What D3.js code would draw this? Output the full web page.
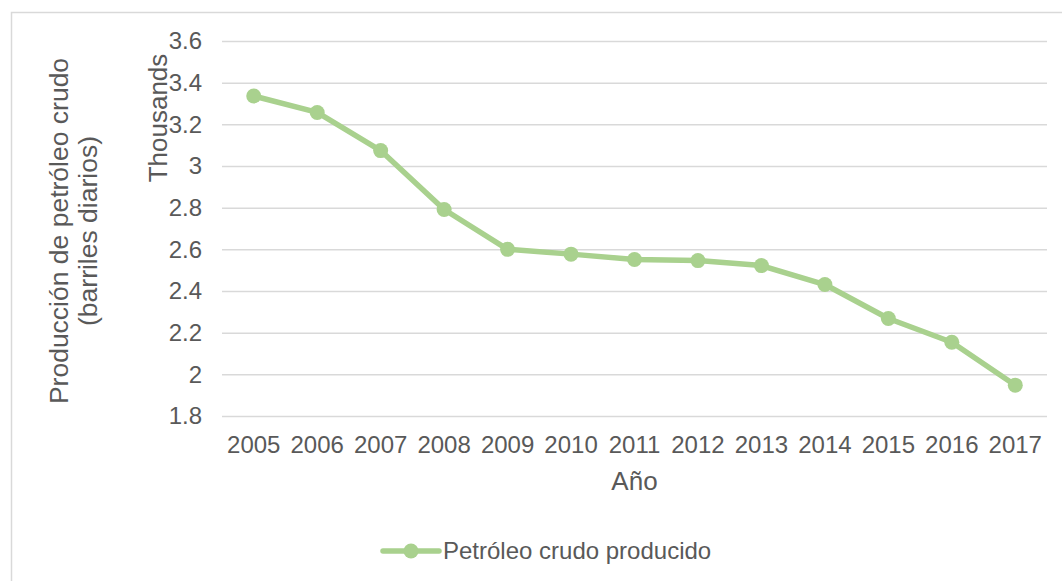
<!DOCTYPE html>
<html>
<head>
<meta charset="utf-8">
<script src="https://cdn.jsdelivr.net/npm/d3@7"></script>
<style>
  body { margin: 0; background: #fff; }
  text { font-family: "Liberation Sans", Arial, sans-serif; fill: #595959; }
</style>
</head>
<body>
<script>
// data (thousands of barrels per day)
const years = ["2005", "2006", "2007", "2008", "2009", "2010", "2011", "2012", "2013", "2014", "2015", "2016", "2017"];
const production = [3.336, 3.257, 3.074, 2.791, 2.600, 2.577, 2.551, 2.546, 2.522, 2.431, 2.268, 2.154, 1.948];
const yTicks = [1.8, 2, 2.2, 2.4, 2.6, 2.8, 3, 3.2, 3.4, 3.6];

const W = 1062, H = 581;
const margin = { top: 41, right: 15, bottom: 165, left: 222 },
      width = 1047 - margin.left,
      height = 416 - margin.top;

const lineColor = "#A9D18E";

let svg = d3.select("body").append("svg")
    .attr("width", W)
    .attr("height", H);

// chart area border
svg.append("rect")
    .attr("x", 11.5).attr("y", 12.5)
    .attr("width", W).attr("height", H)
    .attr("fill", "none")
    .attr("stroke", "#D9D9D9")
    .attr("stroke-width", 1.5);

let g = svg.append("g")
    .attr("transform", "translate(" + margin.left + "," + margin.top + ")");

let x = d3.scaleBand().domain(years).range([0, width]);
let y = d3.scaleLinear().domain([1.8, 3.6]).range([height, 0]);

// gridlines
g.append("g")
    .call(d3.axisLeft(y).tickValues(yTicks).tickSize(-width).tickFormat(""))
    .call(a => a.select(".domain").remove())
    .call(a => a.selectAll("line").attr("stroke", "#D9D9D9").attr("stroke-width", 1.5));

// y tick labels
g.append("g")
    .call(d3.axisLeft(y).tickValues(yTicks).tickSize(0).tickPadding(20).tickFormat(d3.format("")))
    .call(a => a.select(".domain").remove())
    .call(a => a.selectAll("text").style("font-size", "24px").attr("fill", "#595959"));

// x tick labels
g.append("g")
    .attr("transform", "translate(0," + height + ")")
    .call(d3.axisBottom(x).tickSize(0).tickPadding(20))
    .call(a => a.select(".domain").remove())
    .call(a => a.selectAll("text").style("font-size", "24px").attr("fill", "#595959"));

// line
let line = d3.line()
    .x((d, i) => x(years[i]) + x.bandwidth() / 2)
    .y(d => y(d));

g.append("path")
    .datum(production)
    .attr("fill", "none")
    .attr("stroke", lineColor)
    .attr("stroke-width", 5.5)
    .attr("stroke-linejoin", "round")
    .attr("d", line);

g.selectAll(".dot")
    .data(production)
    .enter().append("circle")
    .attr("class", "dot")
    .attr("r", 7.5)
    .attr("cx", (d, i) => x(years[i]) + x.bandwidth() / 2)
    .attr("cy", d => y(d))
    .attr("fill", lineColor);

// axis titles
g.append("text")
    .attr("x", width / 2)
    .attr("y", 490 - margin.top)
    .attr("text-anchor", "middle")
    .style("font-size", "26px")
    .text("Año");

let yTitle = svg.append("text")
    .attr("transform", "translate(72," + 231 + ") rotate(-90)")
    .attr("text-anchor", "middle")
    .style("font-size", "26.5px");
yTitle.append("tspan").attr("x", 0).attr("dy", "-0.15em").text("Producción de petróleo crudo");
yTitle.append("tspan").attr("x", 0).attr("dy", "1.1em").text("(barriles diarios)");

svg.append("text")
    .attr("transform", "translate(167,118) rotate(-90)")
    .attr("text-anchor", "middle")
    .style("font-size", "26px")
    .text("Thousands");

// legend
let legend = svg.append("g").attr("transform", "translate(383,551)");
legend.append("line")
    .attr("x1", 0).attr("x2", 56)
    .attr("stroke", lineColor)
    .attr("stroke-width", 5.5)
    .attr("stroke-linecap", "round");
legend.append("circle")
    .attr("cx", 28).attr("r", 7.5)
    .attr("fill", lineColor);
legend.append("text")
    .attr("x", 60)
    .attr("y", 8)
    .style("font-size", "24px")
    .text("Petróleo crudo producido");
</script>
</body>
</html>
